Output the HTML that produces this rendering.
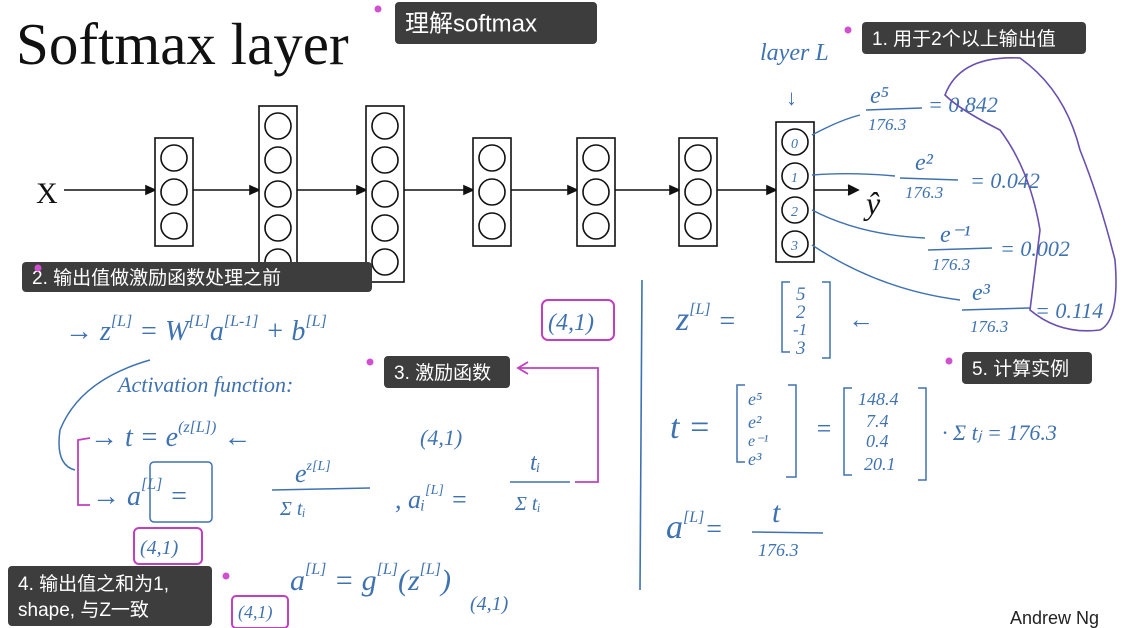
<!DOCTYPE html>
<html><head><meta charset="utf-8"><style>
html,body{margin:0;padding:0;background:#fff;}
svg{display:block;}
.hw{font-family:"Liberation Serif",serif;font-style:italic;fill:#3f72b0;}
.lbl{font-family:"Liberation Sans","Noto Sans CJK SC",sans-serif;fill:#fff;}
</style></head><body>
<svg width="1122" height="628" viewBox="0 0 1122 628" xmlns="http://www.w3.org/2000/svg">
<rect width="1122" height="628" fill="#fff"/>
<text x="16" y="64" font-family="Liberation Serif,serif" font-size="59" fill="#111">Softmax layer</text>

<g stroke="#111" fill="none" stroke-width="1.6">
<text x="36" y="203" font-family="Liberation Serif,serif" font-size="30" fill="#111" stroke="none">X</text>
<line x1="64" y1="190" x2="855" y2="190"/>
<path d="M848,185 L858,190 L848,195" fill="#111"/>
<g id="arrows" fill="#111"></g>
<g id="layers"></g>
<text x="866" y="214" font-family="Liberation Serif,serif" font-style="italic" font-size="32" fill="#111" stroke="none">ŷ</text>
</g>

<g>
<text class="hw" x="760" y="60" font-size="24">layer L</text>
<text class="hw" x="786" y="105" font-size="22">↓</text>
<text class="hw" x="870" y="103" font-size="24">e⁵</text>
<line x1="866" y1="110" x2="922" y2="108" stroke="#3f72b0" stroke-width="1.5"/>
<text class="hw" x="868" y="130" font-size="17">176.3</text>
<text class="hw" x="928" y="112" font-size="22">= 0.842</text>
<text class="hw" x="915" y="170" font-size="24">e²</text>
<line x1="900" y1="178" x2="958" y2="180" stroke="#3f72b0" stroke-width="1.5"/>
<text class="hw" x="905" y="198" font-size="17">176.3</text>
<text class="hw" x="970" y="188" font-size="22">= 0.042</text>
<text class="hw" x="940" y="242" font-size="24">e⁻¹</text>
<line x1="928" y1="250" x2="992" y2="248" stroke="#3f72b0" stroke-width="1.5"/>
<text class="hw" x="932" y="270" font-size="17">176.3</text>
<text class="hw" x="1000" y="256" font-size="22">= 0.002</text>
<text class="hw" x="972" y="300" font-size="24">e³</text>
<line x1="962" y1="310" x2="1030" y2="308" stroke="#3f72b0" stroke-width="1.5"/>
<text class="hw" x="970" y="332" font-size="17">176.3</text>
<text class="hw" x="1035" y="318" font-size="22">= 0.114</text>
<g stroke="#3f72b0" fill="none" stroke-width="1.4">
<path d="M812,135 Q840,120 860,115"/><path d="M812,175 Q850,172 895,176"/>
<path d="M812,210 Q860,235 925,238"/><path d="M812,245 Q880,290 960,300"/>
</g>
<path d="M945,95 Q960,55 1020,58 Q1065,90 1080,150 Q1100,200 1115,260 Q1120,320 1100,330 Q1060,335 1030,310 L1040,230 Q1030,170 1000,130 Q960,110 945,95 Z" stroke="#6a4fb0" stroke-width="1.6" fill="none"/>
</g>

<g>
<text class="hw" x="65" y="340" font-size="28">→ z<tspan font-size="16" dy="-14">[L]</tspan><tspan dy="14"> = W</tspan><tspan font-size="16" dy="-14">[L]</tspan><tspan dy="14">a</tspan><tspan font-size="16" dy="-14">[L-1]</tspan><tspan dy="14"> + b</tspan><tspan font-size="16" dy="-14">[L]</tspan></text>
<rect x="542" y="300" width="72" height="40" rx="6" fill="none" stroke="#c040c0" stroke-width="2"/>
<text class="hw" x="548" y="330" font-size="24">(4,1)</text>
<text class="hw" x="118" y="392" font-size="22">Activation function:</text>
<text class="hw" x="90" y="446" font-size="28">→ t = e<tspan font-size="16" dy="-14">(z[L])</tspan><tspan dy="14"> ←</tspan></text>
<text class="hw" x="420" y="445" font-size="22">(4,1)</text>
<rect x="150" y="462" width="62" height="60" rx="4" fill="none" stroke="#3f72b0" stroke-width="1.5"/>
<text class="hw" x="92" y="505" font-size="28">→ a<tspan font-size="16" dy="-16">[L]</tspan><tspan dy="16">  =</tspan></text>
<text class="hw" x="295" y="482" font-size="26">e<tspan font-size="14" dy="-12">z[L]</tspan></text>
<line x1="272" y1="490" x2="370" y2="488" stroke="#3f72b0" stroke-width="1.5"/>
<text class="hw" x="280" y="515" font-size="20">Σ tᵢ</text>
<text class="hw" x="395" y="508" font-size="26">,  aᵢ<tspan font-size="14" dy="-14">[L]</tspan><tspan dy="14"> =</tspan></text>
<text class="hw" x="530" y="470" font-size="24">tᵢ</text>
<line x1="510" y1="482" x2="570" y2="482" stroke="#3f72b0" stroke-width="1.5"/>
<text class="hw" x="515" y="510" font-size="20">Σ tᵢ</text>
<path d="M150,360 Q80,380 60,430 Q55,465 75,470" stroke="#3f72b0" fill="none" stroke-width="1.5"/>
<path d="M90,438 L78,440 L78,505 L90,505" stroke="#c040c0" fill="none" stroke-width="1.8"/>
<path d="M520,368 L598,368 L598,482 L575,482" stroke="#c040c0" fill="none" stroke-width="1.8"/>
<path d="M528,362 L518,368 L528,374" stroke="#c040c0" fill="none" stroke-width="1.8"/>
<rect x="134" y="528" width="68" height="36" rx="5" fill="none" stroke="#c040c0" stroke-width="2"/>
<text class="hw" x="140" y="554" font-size="20">(4,1)</text>
<text class="hw" x="290" y="590" font-size="30">a<tspan font-size="16" dy="-16">[L]</tspan><tspan dy="16"> = g</tspan><tspan font-size="16" dy="-16">[L]</tspan><tspan dy="16">(z</tspan><tspan font-size="16" dy="-16">[L]</tspan><tspan dy="16">)</tspan></text>
<text class="hw" x="470" y="610" font-size="20">(4,1)</text>
<rect x="232" y="596" width="56" height="32" rx="4" fill="none" stroke="#c040c0" stroke-width="2"/>
<text class="hw" x="238" y="618" font-size="18">(4,1)</text>
</g>

<line x1="642" y1="280" x2="640" y2="590" stroke="#3f72b0" stroke-width="1.6"/>

<g>
<text class="hw" x="676" y="330" font-size="34">z<tspan font-size="16" dy="-16">[L]</tspan><tspan dy="16" font-size="28"> =</tspan></text>
<path d="M790,282 L782,282 L782,352 L790,352 M822,282 L830,282 L830,358 L822,358" stroke="#3f72b0" fill="none" stroke-width="1.5"/>
<text class="hw" x="796" y="300" font-size="19">5</text>
<text class="hw" x="796" y="318" font-size="19">2</text>
<text class="hw" x="793" y="335" font-size="17">-1</text>
<text class="hw" x="796" y="354" font-size="19">3</text>
<text class="hw" x="848" y="328" font-size="26">←</text>
<text class="hw" x="670" y="438" font-size="34">t =</text>
<path d="M745,385 L737,385 L737,462 L745,462 M788,385 L796,385 L796,477 L786,477" stroke="#3f72b0" fill="none" stroke-width="1.5"/>
<text class="hw" x="748" y="405" font-size="18">e⁵</text>
<text class="hw" x="748" y="428" font-size="18">e²</text>
<text class="hw" x="748" y="446" font-size="16">e⁻¹</text>
<text class="hw" x="748" y="465" font-size="18">e³</text>
<text class="hw" x="815" y="437" font-size="26">=</text>
<path d="M852,388 L844,388 L844,475 L852,475 M918,388 L926,388 L926,480 L918,480" stroke="#3f72b0" fill="none" stroke-width="1.5"/>
<text class="hw" x="858" y="405" font-size="18">148.4</text>
<text class="hw" x="866" y="427" font-size="18">7.4</text>
<text class="hw" x="866" y="447" font-size="18">0.4</text>
<text class="hw" x="864" y="470" font-size="18">20.1</text>
<text class="hw" x="942" y="440" font-size="22">·  Σ tⱼ = 176.3</text>
<text class="hw" x="666" y="538" font-size="34">a<tspan font-size="16" dy="-16">[L]</tspan><tspan dy="16" font-size="28">=</tspan></text>
<text class="hw" x="772" y="522" font-size="30">t</text>
<line x1="752" y1="532" x2="823" y2="533" stroke="#3f72b0" stroke-width="1.5"/>
<text class="hw" x="758" y="556" font-size="18">176.3</text>
</g>

<text x="1010" y="624" font-family="Liberation Sans,sans-serif" font-size="18" fill="#222">Andrew Ng</text>

<g id="labels"></g>
</svg>
<script>
const layerSizes=[3,5,5,3,3,3,4];
const layerX=[155,259,366,473,577,679,776];
const NS="http://www.w3.org/2000/svg";
const g=document.getElementById('layers');
const ar=document.getElementById('arrows');
layerSizes.forEach((n,i)=>{
  const top=190-(n>=5?84:n===4?68:52);
  const a=document.createElementNS(NS,'path');
  a.setAttribute('d','M'+(layerX[i]-9)+',186 L'+layerX[i]+',190 L'+(layerX[i]-9)+',194 Z');
  
  
  ar.appendChild(a);
  const r=document.createElementNS(NS,'rect');
  r.setAttribute('x',layerX[i]);r.setAttribute('y',top);r.setAttribute('width',38);r.setAttribute('height',n*34+(n===4?4:6));
  r.setAttribute('fill','#fff');
  
  
  g.appendChild(r);
  for(let k=0;k<n;k++){
    const c=document.createElementNS(NS,'circle');
    c.setAttribute('cx',layerX[i]+19);c.setAttribute('cy',top+20+k*34);c.setAttribute('r',13);
    
    
    g.appendChild(c);
    if(i===6){const t=document.createElementNS(NS,'text');t.setAttribute('x',layerX[i]+15);t.setAttribute('y',top+26+k*34);t.setAttribute('class','hw');t.setAttribute('font-size','14');t.setAttribute('stroke','none');t.textContent=k;
    
    
    g.appendChild(t);}
  }
});
const labels=[
 {x:395,y:2,w:202,h:42,fs:24,t:['理解softmax'],dx:378,dy:9},
 {x:862,y:22,w:224,h:32,fs:19,t:['1. 用于2个以上输出值'],dx:848,dy:30},
 {x:22,y:262,w:350,h:30,fs:19,t:['2. 输出值做激励函数处理之前'],dx:38,dy:268},
 {x:384,y:356,w:126,h:32,fs:19,t:['3. 激励函数'],dx:370,dy:362},
 {x:962,y:352,w:130,h:32,fs:19,t:['5. 计算实例'],dx:949,dy:361},
 {x:8,y:566,w:204,h:60,fs:19,t:['4. 输出值之和为1,','shape, 与Z一致'],dx:226,dy:576}
];
const L=document.getElementById('labels');
labels.forEach(l=>{
  const r=document.createElementNS(NS,'rect');
  r.setAttribute('x',l.x);r.setAttribute('y',l.y);r.setAttribute('width',l.w);r.setAttribute('height',l.h);r.setAttribute('rx',4);r.setAttribute('fill','#3d3d3d');
  
  
  L.appendChild(r);
  l.t.forEach((s,j)=>{
    const t=document.createElementNS(NS,'text');
    t.setAttribute('x',l.x+10);t.setAttribute('y',l.y+(l.t.length>1?24+j*26:l.h/2+l.fs*0.36));
    t.setAttribute('class','lbl');t.setAttribute('font-size',l.fs);t.textContent=s;
    
    
    L.appendChild(t);
  });
  const c=document.createElementNS(NS,'circle');
  c.setAttribute('cx',l.dx);c.setAttribute('cy',l.dy);c.setAttribute('r',3.5);c.setAttribute('fill','#d050d0');
  
  
  L.appendChild(c);
});
</script>
</body></html>
